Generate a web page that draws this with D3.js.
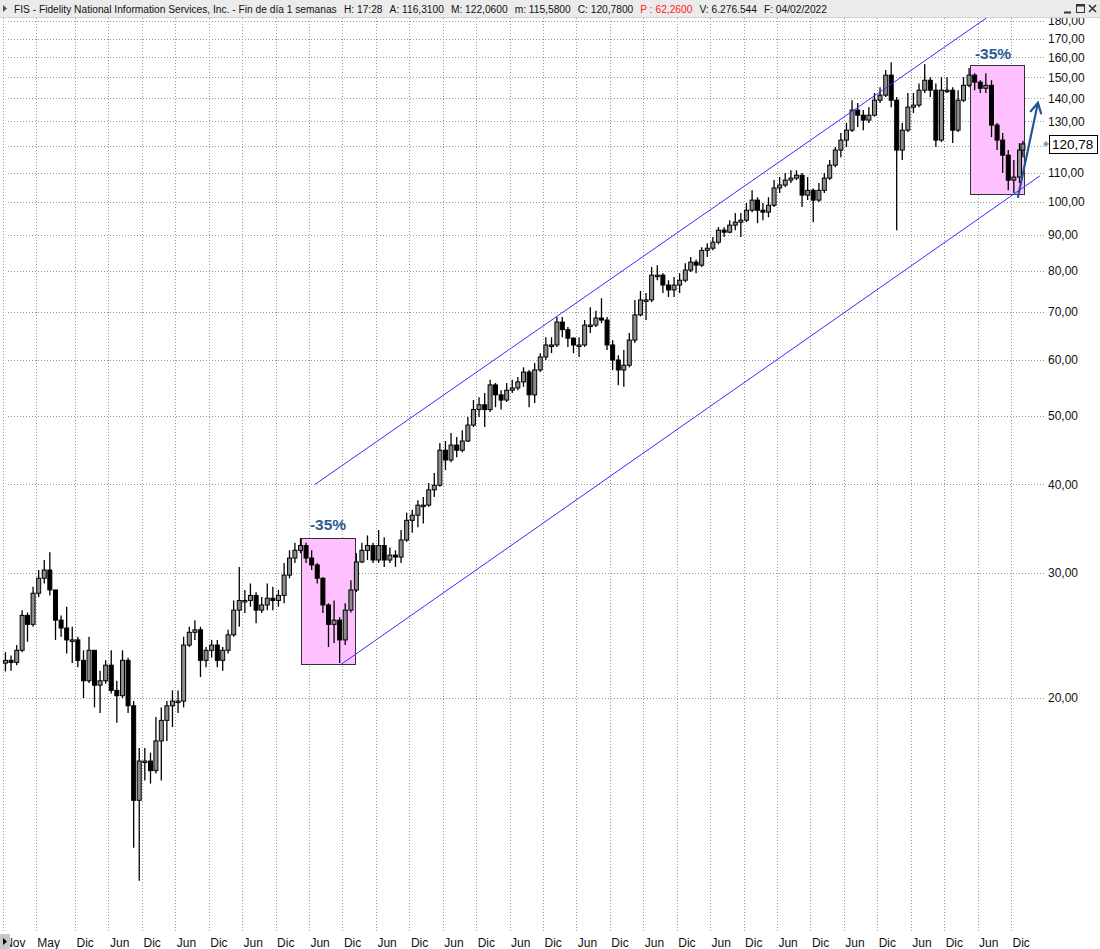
<!DOCTYPE html>
<html><head><meta charset="utf-8">
<script src="https://cdn.jsdelivr.net/npm/d3@7"></script>
<style>
body{margin:0;background:#fff;}
svg{display:block;font-family:"Liberation Sans",Arial,sans-serif;}
</style>
</head><body>
<svg id="c" width="1100" height="949"></svg>
<script>
// ---------- DATA ----------
const firstMonth = "2006-11";
const lastDate = "2022-02-04";
const firstOpen = 22.4;
const closes = [22.6,22.45,23.35,26.15,25.4,28.1,29.5,30.3,28.4,25.75,25.1,24.15,24.15,22.6,21.15,23.35,20.85,21.15,22.25,20.5,
20.15,22.6,19.5,14.35,16.3,16.3,15.8,17.4,18.6,19.5,19.8,19.8,23.75,24.75,24.95,22.6,23.35,23.75,22.6,23.35,
24.55,26.6,27.45,27.45,27.9,26.6,27.05,27.65,27.45,27.9,29.8,31.5,32.3,32.8,31.5,30.8,29.5,27.05,25.4,25.75,
24.15,26.6,28.4,31.1,32.3,32.8,31.3,32.8,31.3,31.8,31.6,33.4,35.6,36.2,37.4,37.4,39.3,39.9,44.7,43.3,
45.45,44.7,46.05,48.5,51.0,51.8,51.0,55.25,53.5,52.6,54.3,54.7,55.8,57.6,53.5,58.0,60.5,62.9,62.9,67.75,
66.1,64.3,62.9,62.9,67.1,67.1,68.65,68.2,62.9,59.9,58.0,58.9,63.9,69.35,72.8,72.8,78.9,78.9,76.4,75.2,
76.4,77.6,80.2,82.3,81.5,85.5,86.1,87.8,91.3,90.7,92.8,93.7,94.3,97.4,100.65,97.4,96.8,99.0,104.7,105.7,
107.4,108.1,109.1,102.3,103.9,100.65,103.9,108.1,112.75,118.4,122.3,126.3,134.8,132.6,130.5,132.6,139.2,141.5,151.0,139.2,
118.4,126.3,136.1,137.0,143.8,148.5,143.8,122.3,143.8,143.8,126.3,139.2,146.1,151.0,147.6,144.7,146.1,128.4,122.3,116.45,
107.4,108.45,118.4,120.78];
const highs = [23.2,22.95,23.75,26.6,26.4,28.7,30.3,31.3,32.1,28.4,26.15,26.9,25.2,24.4,23.35,24.4,23.35,21.85,22.6,23.35,
21.15,23.35,22.8,19.8,17.0,17.0,16.75,18.8,19.4,19.8,20.5,20.5,24.4,25.2,25.75,25.2,23.6,24.15,24.15,23.6,
24.95,27.45,30.6,28.4,29.0,28.2,27.75,29.0,28.7,28.4,31.0,32.3,33.1,33.6,33.1,32.3,31.0,29.6,27.2,27.45,
26.0,27.2,29.3,32.0,33.1,33.9,33.1,34.5,33.7,32.6,32.3,34.5,36.5,36.85,38.0,38.4,40.2,41.5,45.75,46.05,
47.25,46.65,47.7,49.8,52.6,53.1,53.8,56.2,55.6,54.3,55.6,56.2,56.7,58.5,58.0,59.3,61.25,64.5,64.5,68.9,
68.9,66.7,64.5,64.5,68.2,71.1,70.3,73.2,68.9,63.9,60.85,61.9,65.4,72.8,74.95,74.45,81.0,81.5,79.4,77.6,
78.4,79.4,82.0,83.65,83.0,86.4,87.5,89.3,92.2,92.2,94.3,96.5,96.5,99.7,103.9,101.6,99.7,101.6,107.4,108.45,
109.9,110.9,110.9,109.9,108.45,104.5,106.4,109.9,114.6,119.6,125.1,129.3,139.2,137.9,134.8,136.1,142.5,145.2,153.5,157.5,
140.6,129.3,142.5,142.5,147.0,156.5,150.0,147.0,150.0,150.0,145.2,143.8,150.0,154.5,151.9,148.5,151.9,148.5,129.3,125.1,
118.4,114.6,121.1,122.06];
const lows = [21.8,21.85,22.25,23.2,24.0,25.2,27.75,29.0,27.9,24.15,24.4,23.1,22.4,22.1,20.0,21.0,19.4,19.05,20.95,20.3,
18.45,20.0,19.05,12.3,11.05,15.3,15.15,15.65,15.3,17.4,18.2,19.05,19.4,23.6,24.15,21.4,22.1,22.8,22.1,21.85,
23.1,24.4,25.2,26.35,26.9,25.5,26.35,26.6,26.6,26.9,27.2,29.5,31.0,32.0,31.0,30.3,29.0,26.35,23.6,23.9,
22.4,23.75,26.4,28.2,31.0,31.3,31.0,31.0,30.6,31.0,30.6,31.0,33.2,34.2,34.8,35.25,37.2,38.4,39.7,41.9,
43.0,43.7,44.4,45.9,48.2,49.8,48.2,50.6,51.4,51.0,52.25,53.8,54.3,54.9,51.4,52.1,57.6,59.9,61.25,62.5,
64.5,62.5,61.25,60.5,62.5,65.4,66.7,67.5,61.9,58.0,55.2,54.9,58.5,63.3,69.0,68.2,72.3,77.6,74.45,73.5,
73.5,74.45,77.1,79.7,79.4,81.0,83.65,85.5,87.2,89.3,90.4,91.3,89.3,93.7,96.8,93.4,94.3,95.2,98.4,103.0,
105.0,106.4,107.4,98.4,100.65,93.7,100.0,103.0,107.4,112.0,115.7,119.6,125.5,127.6,126.3,129.3,132.0,137.9,140.6,136.1,
91.3,114.6,125.5,133.5,136.1,142.5,140.6,119.6,121.5,142.5,121.1,125.5,138.35,145.2,143.8,142.5,142.5,123.5,118.4,109.9,
103.9,103.0,106.4,115.58];

const yTicks = [20,30,40,50,60,70,80,90,100,110,120,130,140,150,160,170,180];
const xTickDates = ["2006-11","2007-05","2007-12","2008-06","2008-12","2009-06","2009-12","2010-06","2010-12",
"2011-06","2011-12","2012-06","2012-12","2013-06","2013-12","2014-06","2014-12","2015-06","2015-12",
"2016-06","2016-12","2017-06","2017-12","2018-06","2018-12","2019-06","2019-12","2020-06","2020-12","2021-06","2021-12"];
const xTickLabels = ["Nov","May","Dic","Jun","Dic","Jun","Dic","Jun","Dic","Jun","Dic","Jun","Dic","Jun","Dic","Jun",
"Dic","Jun","Dic","Jun","Dic","Jun","Dic","Jun","Dic","Jun","Dic","Jun","Dic","Jun","Dic"];

const channelUpper = [["2011-07-04",40.0],["2021-07-28",182.4]];
const channelLower = [["2011-11-23",22.3],["2022-05-08",108.9]];
const boxes = [
  {from:"2011-04-19", to:"2012-02-08", top:33.6, bottom:22.3, label:"-35%"},
  {from:"2021-04-21", to:"2022-02-10", top:156.1, bottom:102.7, label:"-35%"}
];
const arrowPts = [["2022-01-08",101.7],["2022-04-27",138.0]];

const headerSegs = [
  {t:"FIS - Fidelity National Information Services, Inc. - Fin de día 1 semanas", red:false},
  {t:"H: 17:28", red:false},
  {t:"A: 116,3100", red:false},
  {t:"M: 122,0600", red:false},
  {t:"m: 115,5800", red:false},
  {t:"C: 120,7800", red:false},
  {t:"P : 62,2600", red:true},
  {t:"V: 6.276.544", red:false},
  {t:"F: 04/02/2022", red:false}
];

// ---------- SCALES ----------
const svg = d3.select("#c");
const pd = d3.utcParse("%Y-%m-%d");
const pm = d3.utcParse("%Y-%m");
const x = d3.scaleUtc().domain([Date.UTC(2007,11,1), Date.UTC(2021,11,1)]).range([75,1011]);
const y = d3.scaleLog().domain([20,180]).range([698,21]);
const loc = d3.formatLocale({decimal:",", thousands:".", grouping:[3], currency:["","€"]});
const f2 = loc.format(".2f");
const lastClose = closes[closes.length-1];

svg.append("rect").attr("width",1100).attr("height",949).attr("fill","#fff");

// ---------- GRID ----------
const grid = svg.append("g").attr("stroke","#9a9a9a").attr("stroke-width",1).attr("stroke-dasharray","1,2");
grid.selectAll("line.h").data(yTicks).join("line")
  .attr("x1",8).attr("x2",1046)
  .attr("y1",d=>Math.round(y(d))+0.5).attr("y2",d=>Math.round(y(d))+0.5);
grid.selectAll("line.v").data(xTickDates).join("line")
  .attr("x1",d=>Math.round(x(pm(d)))+0.5).attr("x2",d=>Math.round(x(pm(d)))+0.5)
  .attr("y1",18).attr("y2",931);

// ---------- BOXES ----------
const bx = svg.append("g");
bx.selectAll("rect").data(boxes).join("rect")
  .attr("x",d=>Math.round(x(pd(d.from)))+0.5)
  .attr("y",d=>Math.round(y(d.top))+0.5)
  .attr("width",d=>Math.round(x(pd(d.to))-x(pd(d.from))))
  .attr("height",d=>Math.round(y(d.bottom)-y(d.top)))
  .attr("fill","#ffc0ff").attr("stroke","#333").attr("stroke-width",1);
bx.selectAll("text").data(boxes).join("text")
  .attr("x",(d,i)=>(x(pd(d.from))+x(pd(d.to)))/2 + (i===1?-4:0))
  .attr("y",(d,i)=>y(d.top)-(i===0?8:5.5))
  .attr("text-anchor","middle").attr("font-weight","bold").attr("font-size","15.5px")
  .attr("fill","#2b5a92").text(d=>d.label);

// ---------- CANDLES ----------
const m0 = pm(firstMonth);
const candles = closes.map((c,i)=>{
  const s = d3.utcMonth.offset(m0,i), e = d3.utcMonth.offset(m0,i+1);
  const date = i===closes.length-1 ? pd(lastDate) : new Date((+s + +e)/2);
  const open = i===0 ? firstOpen : closes[i-1];
  return {date, open, close:c, high:Math.max(highs[i],open,c), low:Math.min(lows[i],open,c)};
});
const cg = svg.append("g");
const bw = 4.0;
cg.selectAll("line").data(candles).join("line")
  .attr("x1",d=>x(d.date)).attr("x2",d=>x(d.date))
  .attr("y1",d=>y(d.high)).attr("y2",d=>y(d.low))
  .attr("stroke","#000").attr("stroke-width",1.3);
cg.selectAll("rect").data(candles).join("rect")
  .attr("x",d=>x(d.date)-bw/2)
  .attr("y",d=>y(Math.max(d.open,d.close)))
  .attr("width",bw)
  .attr("height",d=>Math.max(1.5,Math.abs(y(d.open)-y(d.close))))
  .attr("fill",d=>d.close>=d.open?"#8c8c8c":"#000")
  .attr("stroke","#000").attr("stroke-width",1);

// ---------- CHANNEL ----------
const line = d3.line().x(d=>x(pd(d[0]))).y(d=>y(d[1]));
svg.append("path").attr("d",line(channelUpper)).attr("fill","none").attr("stroke","#3030ff").attr("stroke-width",1);
svg.append("path").attr("d",line(channelLower)).attr("fill","none").attr("stroke","#3030ff").attr("stroke-width",1);

// ---------- ARROW ----------
{
  const [a,b] = arrowPts;
  const x1=x(pd(a[0])), y1=y(a[1]), x2=x(pd(b[0])), y2=y(b[1]);
  const ang = Math.atan2(y2-y1,x2-x1), L=11, sp=0.5;
  const ag = svg.append("g").attr("stroke","#1f5597").attr("stroke-width",2.2).attr("fill","none").attr("stroke-linecap","round");
  ag.append("line").attr("x1",x1).attr("y1",y1).attr("x2",x2).attr("y2",y2);
  ag.append("path").attr("d",`M${x2-L*Math.cos(ang-sp)},${y2-L*Math.sin(ang-sp)}L${x2},${y2}L${x2-L*Math.cos(ang+sp)},${y2-L*Math.sin(ang+sp)}`);
}

// ---------- AXES ----------
const ya = svg.append("g").attr("transform","translate(1046,0)")
  .call(d3.axisRight(y).tickValues(yTicks)
    .tickFormat(d=>Math.abs(y(d)-y(lastClose))<10 ? "" : f2(d)).tickSize(0).tickPadding(2));
ya.select(".domain").remove();
ya.selectAll("text").attr("font-size","12px").attr("font-family","Liberation Sans, Arial, sans-serif").attr("fill","#111");

const xa = svg.append("g").attr("transform","translate(0,938.5)")
  .call(d3.axisBottom(x).tickValues(xTickDates.map(pm)).tickFormat((d,i)=>xTickLabels[i]).tickSize(0).tickPadding(0));
xa.select(".domain").remove();
xa.selectAll("text").attr("text-anchor","start").attr("dx",1).attr("font-size","12px")
  .attr("font-family","Liberation Sans, Arial, sans-serif").attr("fill","#111");

// last price marker
{
  const yy = y(lastClose);
  svg.append("path").attr("d",`M${1043},${yy}l3,-3l3,3l-3,3z`).attr("fill","#999");
  svg.append("rect").attr("x",1049.5).attr("y",Math.round(yy)-8.5).attr("width",48).attr("height",18)
    .attr("fill","#fff").attr("stroke","#000");
  svg.append("text").attr("x",1052).attr("y",Math.round(yy)+5).attr("font-size","13.5px").attr("fill","#000").text(f2(lastClose));
}

// bottom-left icon
svg.append("rect").attr("x",0).attr("y",934).attr("width",10).attr("height",15).attr("fill","#c8c8c8");
svg.append("path").attr("d","M3,938l4,3.5l-4,3.5z").attr("fill","#000");

// ---------- HEADER ----------
svg.append("rect").attr("x",0).attr("y",0).attr("width",1100).attr("height",17).attr("fill","#ebebeb");
svg.append("line").attr("x1",0).attr("x2",1100).attr("y1",17.5).attr("y2",17.5).attr("stroke","#d4d4d4");
svg.append("path").attr("d","M3,5l4,3.5l-4,3.5z").attr("fill","#555");
{
  const hx0 = 14, hx1 = 827, gap = 7;
  const ht = svg.append("g").selectAll("text").data(headerSegs).join("text")
    .attr("y",12.5).attr("font-size","11px")
    .attr("fill",d=>d.red?"#ff2020":"#111").text(d=>d.t);
  const w = ht.nodes().map(n=>n.getComputedTextLength());
  const total = d3.sum(w);
  const s = Math.min(1.05, (hx1-hx0-gap*(w.length-1))/total);
  ht.attr("font-size",(11*s)+"px");
  let cx = hx0;
  ht.each(function(d,i){ d3.select(this).attr("x",cx); cx += w[i]*s + gap; });
}
// window buttons
{
  const wb = svg.append("g").attr("stroke","#333").attr("fill","none").attr("stroke-width",1);
  wb.append("line").attr("x1",1064).attr("x2",1071).attr("y1",12.5).attr("y2",12.5).attr("stroke-width",2);
  wb.append("rect").attr("x",1076.5).attr("y",4.5).attr("width",8).attr("height",8);
  wb.append("line").attr("x1",1076.5).attr("x2",1084.5).attr("y1",5.5).attr("y2",5.5).attr("stroke-width",2);
  wb.append("path").attr("d","M1089,5L1096,12M1096,5L1089,12").attr("stroke-width",1.6);
}
</script>
</body></html>
